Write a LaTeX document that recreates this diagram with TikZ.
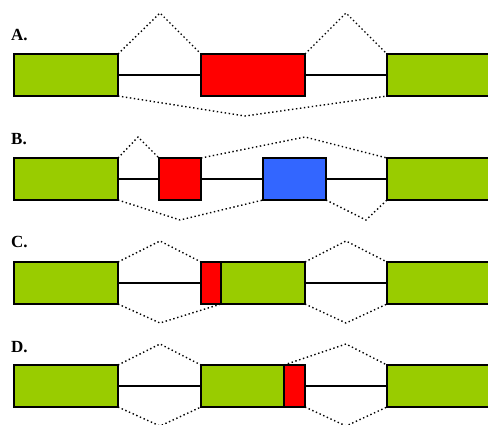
\documentclass[tikz,border=0pt]{standalone}
\usepackage{fontspec}
\setmainfont{Liberation Serif}
\definecolor{exongreen}{HTML}{99CC00}
\definecolor{exonred}{HTML}{FF0000}
\definecolor{exonblue}{HTML}{3366FF}
\begin{document}
\begin{tikzpicture}[x=1pt,y=-1pt,
  exon/.style={draw=black, line width=1.7pt, rectangle, inner sep=0pt,
               outer sep=0pt, anchor=north west, minimum height=42pt},
  intron/.style={draw=black, line width=1.7pt},
  splice/.style={draw=black, line width=1.4pt, dash pattern=on 1.4pt off 2.6pt},
  rowlabel/.style={font=\fontsize{17}{17}\selectfont\bfseries, anchor=base west, inner sep=0pt}]
\useasboundingbox (0,0) rectangle (488,424);

% ---------- A ----------
\node[rowlabel] (la) at (11,40) {A.};
\node[exon, fill=exongreen, minimum width=104pt] (a1) at (14,54) {};
\node[exon, fill=exonred,   minimum width=104pt] (a2) at (201,54) {};
\node[exon, fill=exongreen, minimum width=106pt] (a3) at (387,54) {};
\coordinate (pa1) at (160,13);
\coordinate (pa2) at (346,13);
\coordinate (pa3) at (245,116);
\draw[intron] (a1.east) -- (a2.west) (a2.east) -- (a3.west);
\draw[splice] (a1.north east) -- (pa1) -- (a2.north west);
\draw[splice] (a2.north east) -- (pa2) -- (a3.north west);
\draw[splice] (a1.south east) -- (pa3) -- (a3.south west);

% ---------- B ----------
\node[rowlabel] (lb) at (11,144) {B.};
\node[exon, fill=exongreen, minimum width=104pt] (b1) at (14,158) {};
\node[exon, fill=exonred,   minimum width=42pt]  (b2) at (159,158) {};
\node[exon, fill=exonblue,  minimum width=63pt]  (b3) at (263,158) {};
\node[exon, fill=exongreen, minimum width=106pt] (b4) at (387,158) {};
\coordinate (pb1) at (138,137);
\coordinate (pb2) at (305,137);
\coordinate (pb3) at (180,220);
\coordinate (pb4) at (366,220);
\draw[intron] (b1.east) -- (b2.west) (b2.east) -- (b3.west) (b3.east) -- (b4.west);
\draw[splice] (b1.north east) -- (pb1) -- (b2.north west);
\draw[splice] (b2.north east) -- (pb2) -- (b4.north west);
\draw[splice] (b1.south east) -- (pb3) -- (b3.south west);
\draw[splice] (b3.south east) -- (pb4) -- (b4.south west);

% ---------- C ----------
\node[rowlabel] (lc) at (11,247) {C.};
\node[exon, fill=exongreen, minimum width=104pt] (c1) at (14,262) {};
\node[exon, fill=exonred,   minimum width=20pt]  (c2) at (201,262) {};
\node[exon, fill=exongreen, minimum width=84pt]  (c3) at (221,262) {};
\node[exon, fill=exongreen, minimum width=106pt] (c4) at (387,262) {};
\coordinate (pc1) at (160,241);
\coordinate (pc2) at (346,241);
\coordinate (pc3) at (160,323);
\coordinate (pc4) at (346,323);
\draw[intron] (c1.east) -- (c2.west) (c3.east) -- (c4.west);
\draw[splice] (c1.north east) -- (pc1) -- (c2.north west);
\draw[splice] (c3.north east) -- (pc2) -- (c4.north west);
\draw[splice] (c1.south east) -- (pc3) -- (c2.south east);
\draw[splice] (c3.south east) -- (pc4) -- (c4.south west);

% ---------- D ----------
\node[rowlabel] (ld) at (11,352) {D.};
\node[exon, fill=exongreen, minimum width=104pt] (d1) at (14,365) {};
\node[exon, fill=exongreen, minimum width=83pt]  (d2) at (201,365) {};
\node[exon, fill=exonred,   minimum width=21pt]  (d3) at (284,365) {};
\node[exon, fill=exongreen, minimum width=106pt] (d4) at (387,365) {};
\coordinate (pd1) at (160,344);
\coordinate (pd2) at (346,344);
\coordinate (pd3) at (160,426);
\coordinate (pd4) at (346,426);
\draw[intron] (d1.east) -- (d2.west) (d3.east) -- (d4.west);
\draw[splice] (d1.north east) -- (pd1) -- (d2.north west);
\draw[splice] (d3.north west) -- (pd2) -- (d4.north west);
\draw[splice] (d1.south east) -- (pd3) -- (d2.south west);
\draw[splice] (d3.south east) -- (pd4) -- (d4.south west);
\end{tikzpicture}
\end{document}
